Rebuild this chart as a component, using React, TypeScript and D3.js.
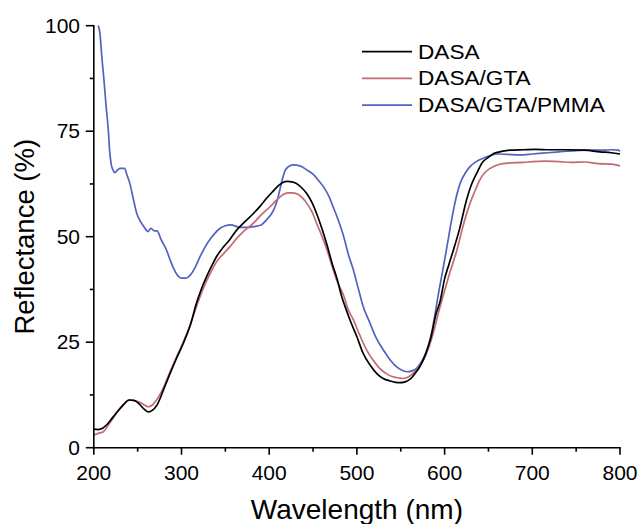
import React from "react";
import * as d3 from "d3";

// Reflectance spectra (wavelength in nm, reflectance in %)
const dasaWl = [200, 205, 210, 215, 222, 228, 234, 240, 246, 252, 257, 262, 267, 272, 280, 287, 295, 302, 310, 317, 323, 329, 335, 340, 348, 355, 363, 372, 382, 390, 397, 404, 410, 415, 421, 426, 431, 437, 443, 449, 454, 460, 466, 472, 477, 483, 488, 493, 500, 507, 515, 523, 530, 538, 544, 549, 555, 561, 566, 572, 578, 584, 590, 595, 600, 605, 610, 617, 625, 630, 637, 643, 650, 656, 665, 675, 690, 703, 720, 740, 760, 777, 790, 800];
const dasaR = [4.4, 4.3, 4.6, 5.5, 7.3, 8.8, 10.2, 11.3, 11.2, 10.3, 9.2, 8.5, 8.9, 10.1, 14.0, 17.6, 21.5, 24.7, 29.0, 34.2, 37.8, 40.7, 43.3, 45.3, 47.6, 49.3, 51.6, 53.5, 55.5, 57.3, 59.1, 60.7, 62.0, 62.8, 63.1, 63.0, 62.6, 61.6, 60.2, 58.0, 55.5, 52.0, 48.0, 43.5, 40.3, 35.6, 32.6, 29.8, 26.3, 22.4, 19.6, 17.5, 16.4, 15.8, 15.5, 15.4, 15.6, 16.3, 17.5, 19.3, 22.0, 25.8, 31.5, 34.8, 40.0, 43.5, 46.8, 51.8, 58.7, 62.0, 65.2, 67.6, 68.8, 69.7, 70.2, 70.5, 70.6, 70.7, 70.6, 70.6, 70.5, 70.1, 69.9, 69.6];

const gtaWl = [200, 205, 211, 216, 222, 228, 234, 241, 247, 253, 258, 262, 266, 270, 274, 280, 287, 295, 302, 310, 317, 323, 329, 335, 340, 348, 355, 363, 372, 382, 390, 401, 410, 416, 421, 426, 431, 437, 443, 449, 454, 460, 466, 472, 477, 485, 490, 496, 503, 511, 519, 526, 534, 541, 548, 553, 559, 564, 570, 576, 582, 587, 593, 599, 606, 614, 621, 629, 635, 640, 646, 652, 660, 675, 690, 700, 715, 731, 745, 760, 775, 790, 800];
const gtaR = [3.0, 3.4, 3.8, 5.2, 7.0, 8.8, 10.3, 11.3, 11.1, 10.7, 10.1, 9.7, 10.0, 10.9, 12.1, 14.5, 18.0, 21.8, 25.0, 29.2, 33.4, 36.8, 39.7, 42.2, 44.1, 46.0, 47.6, 49.6, 51.5, 53.2, 55.0, 57.1, 59.0, 60.0, 60.4, 60.4, 60.2, 59.4, 57.9, 55.8, 53.2, 50.2, 46.8, 42.8, 39.7, 36.0, 32.8, 30.3, 26.8, 23.2, 20.6, 18.8, 17.5, 16.8, 16.5, 16.4, 16.8, 17.6, 19.0, 20.8, 23.8, 27.1, 32.0, 36.5, 41.5, 46.8, 52.5, 57.9, 61.0, 63.4, 65.2, 66.2, 67.0, 67.5, 67.6, 67.8, 67.9, 67.8, 67.6, 67.7, 67.3, 67.2, 66.8];

const pmmaWl = [205, 207, 209, 211.6, 214, 216.5, 218, 220.4, 222, 224, 227, 230, 235, 238, 241, 245, 249, 253, 257, 262, 265, 269, 272, 277, 283, 287, 291, 295, 300, 305, 310, 315, 321, 327, 333, 338, 344, 350, 356, 367, 375, 382, 390, 397, 405, 409, 412, 415, 418, 422, 427, 435, 443, 450, 456, 462, 468, 473, 479, 485, 490, 496, 502, 507, 515, 522, 530, 538, 545, 552, 558, 563, 568, 574, 580, 585, 589, 593, 597, 602, 608, 614, 618, 624, 629, 636, 644, 652, 660, 672, 686, 700, 712, 730, 750, 765, 780, 790, 798, 800];
const pmmaR = [100, 98.2, 93.0, 87.1, 81.0, 75.3, 70.5, 66.6, 65.8, 65.2, 65.8, 66.2, 66.2, 64.5, 62.7, 59.0, 55.5, 53.7, 52.4, 51.2, 52.0, 51.4, 51.4, 49.2, 46.8, 44.5, 42.5, 41.0, 40.2, 40.2, 40.9, 42.5, 45.2, 47.6, 49.5, 50.8, 52.0, 52.6, 52.8, 52.2, 52.2, 52.4, 52.7, 54.0, 56.3, 58.5, 61.0, 63.6, 65.6, 66.6, 67.0, 66.8, 65.8, 64.8, 63.4, 61.8, 59.6, 57.0, 53.8, 50.0, 46.0, 42.1, 37.4, 33.6, 29.5, 26.0, 23.2, 20.8, 19.2, 18.3, 18.0, 18.2, 18.8, 20.5, 23.2, 27.0, 31.5, 36.5, 41.0, 46.8, 54.0, 60.0, 62.8, 65.2, 66.6, 67.8, 68.6, 69.2, 69.6, 69.5, 69.4, 69.6, 69.8, 70.1, 70.4, 70.5, 70.5, 70.6, 70.5, 70.2];

const seriesNames = ["DASA", "DASA/GTA", "DASA/GTA/PMMA"];
const seriesColors = ["#000000", "#c26b74", "#5262c0"];

const xTicks = [200, 300, 400, 500, 600, 700, 800];
const xMinorTicks = [250, 350, 450, 550, 650, 750];
const yTicks = [0, 25, 50, 75, 100];
const yMinorTicks = [12.5, 37.5, 62.5, 87.5];

const W = 640;
const H = 524;
const FONT = "'Liberation Sans', Arial, Helvetica, sans-serif";

export default function App() {
  const x = d3.scaleLinear().domain([200, 800]).range([93.8, 620]);
  const y = d3.scaleLinear().domain([0, 100]).range([447.7, 25.7]);

  const line = d3
    .line<[number, number]>()
    .x((d) => x(d[0]))
    .y((d) => y(d[1]))
    .curve(d3.curveMonotoneX);

  const zip = (a: number[], b: number[]) => a.map((v, i) => [v, b[i]] as [number, number]);
  const series = [zip(dasaWl, dasaR), zip(gtaWl, gtaR), zip(pmmaWl, pmmaR)];

  const x0 = x.range()[0];
  const y0 = y.range()[0];
  const plotCx = (x.range()[0] + x.range()[1]) / 2;
  const plotCy = (y.range()[0] + y.range()[1]) / 2;

  return (
    <svg
      width={W}
      height={H}
      style={{ position: "absolute", left: 0, top: 0, background: "#fff" }}
      fontFamily={FONT}
    >
      <rect width={W} height={H} fill="#fff" />
      <defs>
        <clipPath id="plot-clip">
          <rect x={x0} y={y(100) - 1} width={x.range()[1] - x0 + 2} height={y0 - y(100) + 1} />
        </clipPath>
      </defs>

      {/* spectra, drawn back to front */}
      <g clipPath="url(#plot-clip)" fill="none" strokeWidth={1.7} strokeLinejoin="round">
        {[2, 1, 0].map((i) => (
          <path key={i} d={line(series[i]) || ""} stroke={seriesColors[i]} />
        ))}
      </g>

      {/* x axis */}
      <g stroke="#000" strokeWidth={1.6}>
        <line x1={x0 - 0.8} x2={x.range()[1] + 0.8} y1={y0} y2={y0} />
        {xTicks.map((t) => (
          <line key={t} x1={x(t)} x2={x(t)} y1={y0} y2={y0 + 7} />
        ))}
        {xMinorTicks.map((t) => (
          <line key={t} x1={x(t)} x2={x(t)} y1={y0} y2={y0 + 4} />
        ))}
      </g>
      {xTicks.map((t) => (
        <text key={t} x={x(t)} y={480} fontSize={21} textAnchor="middle" fill="#000">
          {t}
        </text>
      ))}
      <text x={plotCx} y={519} fontSize={28} textAnchor="middle" fill="#000">
        Wavelength (nm)
      </text>

      {/* y axis */}
      <g stroke="#000" strokeWidth={1.6}>
        <line x1={x0} x2={x0} y1={y(100) - 0.8} y2={y0 + 0.8} />
        {yTicks.map((t) => (
          <line key={t} x1={x0 - 8} x2={x0} y1={y(t)} y2={y(t)} />
        ))}
        {yMinorTicks.map((t) => (
          <line key={t} x1={x0 - 4} x2={x0} y1={y(t)} y2={y(t)} />
        ))}
      </g>
      {yTicks.map((t) => (
        <text key={t} x={80} y={y(t) + 7} fontSize={21} textAnchor="end" fill="#000">
          {t}
        </text>
      ))}
      <text
        transform={`translate(34, ${plotCy}) rotate(-90)`}
        fontSize={27.5}
        textAnchor="middle"
        fill="#000"
      >
        Reflectance (%)
      </text>

      {/* legend */}
      {seriesNames.map((name, i) => {
        const ly = 51.7 + i * 26.7;
        return (
          <g key={name}>
            <line x1={362} x2={412} y1={ly} y2={ly} stroke={seriesColors[i]} strokeWidth={1.7} />
            <text
              transform={`translate(418, ${ly + 6.8}) scale(1.16, 1)`}
              fontSize={19.5}
              fill="#000"
            >
              {name}
            </text>
          </g>
        );
      })}
    </svg>
  );
}
